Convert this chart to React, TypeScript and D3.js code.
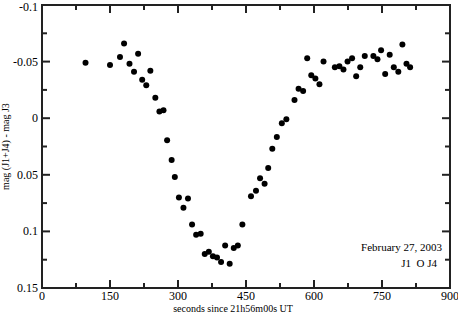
import React from 'react';
import * as d3 from 'd3';

// seconds since 21h56m00s UT
const seconds = [
  96, 150, 172, 181, 193, 203, 212, 221, 230, 239, 250, 259, 268, 276, 286, 293,
  302, 312, 322, 331, 340, 350, 359, 368, 377, 386, 395, 404, 414, 423, 432, 442,
  461, 472, 481, 491, 499, 508, 518, 529, 539, 557, 566, 576, 585, 594, 603, 612,
  621, 646, 656, 665, 674, 684, 693, 702, 712, 731, 740, 748, 757, 767, 776, 786,
  795, 804, 812,
];

// mag (J1+J4) - mag J3
const mag = [
  -0.049, -0.047, -0.054, -0.066, -0.048, -0.041, -0.057, -0.034, -0.029, -0.042, -0.018, -0.006, -0.007, 0.0195, 0.037, 0.052,
  0.070, 0.079, 0.071, 0.094, 0.103, 0.102, 0.120, 0.118, 0.122, 0.123, 0.127, 0.1125, 0.1285, 0.1146, 0.1125, 0.094,
  0.069, 0.064, 0.053, 0.058, 0.044, 0.027, 0.0166, 0.0045, 0.001, -0.016, -0.026, -0.024, -0.053, -0.038, -0.035, -0.030,
  -0.050, -0.045, -0.046, -0.043, -0.050, -0.053, -0.037, -0.045, -0.055, -0.055, -0.052, -0.060, -0.039, -0.056, -0.045, -0.041,
  -0.065, -0.048, -0.045,
];

const xMajor = [0, 150, 300, 450, 600, 750, 900];
const xMinor = [75, 225, 375, 525, 675, 825];
const yMajor = [-0.1, -0.05, 0, 0.05, 0.1, 0.15];
const yMinor = [-0.075, -0.025, 0.025, 0.075, 0.125];
const yLabels = ['-0.1', '-0.05', '0', '0.05', '0.1', '0.15'];

const W = 458;
const H = 313;
const left = 42;
const right = 450;
const top = 5;
const bottom = 288;

export default function App() {
  const x = d3.scaleLinear().domain([0, 900]).range([left, right]);
  const y = d3.scaleLinear().domain([-0.1, 0.15]).range([top, bottom]);
  const font = '"Liberation Serif", "DejaVu Serif", serif';
  const ax = '#222';

  return (
    <svg width={W} height={H} style={{ position: 'absolute', left: 0, top: 0 }} fontFamily={font}>
      <rect x={0} y={0} width={W} height={H} fill="#fff" />
      {/* frame */}
      <rect x={left} y={top} width={right - left} height={bottom - top} fill="none" stroke={ax} strokeWidth={2} />

      {/* x ticks, bottom and top, pointing inward */}
      {xMajor.map((v) => (
        <g key={'xm' + v}>
          <line x1={x(v)} x2={x(v)} y1={bottom} y2={bottom - 8} stroke={ax} strokeWidth={2} />
          <line x1={x(v)} x2={x(v)} y1={top} y2={top + 8} stroke={ax} strokeWidth={2} />
          <text x={x(v)} y={bottom + 12} textAnchor="middle" fill="#000" fontSize={12}>{v}</text>
        </g>
      ))}
      {xMinor.map((v) => (
        <g key={'xn' + v}>
          <line x1={x(v)} x2={x(v)} y1={bottom} y2={bottom - 5} stroke={ax} strokeWidth={2} />
          <line x1={x(v)} x2={x(v)} y1={top} y2={top + 5} stroke={ax} strokeWidth={2} />
        </g>
      ))}

      {/* y ticks, left and right */}
      {yMajor.map((v, i) => (
        <g key={'ym' + v}>
          <line x1={left} x2={left + 8} y1={y(v)} y2={y(v)} stroke={ax} strokeWidth={2} />
          <line x1={right} x2={right - 8} y1={y(v)} y2={y(v)} stroke={ax} strokeWidth={2} />
          <text x={left - 4} y={Math.max(y(v) + 4, 11)} textAnchor="end" fill="#000" fontSize={12}>{yLabels[i]}</text>
        </g>
      ))}
      {yMinor.map((v) => (
        <g key={'yn' + v}>
          <line x1={left} x2={left + 5} y1={y(v)} y2={y(v)} stroke={ax} strokeWidth={2} />
          <line x1={right} x2={right - 5} y1={y(v)} y2={y(v)} stroke={ax} strokeWidth={2} />
        </g>
      ))}

      {/* points */}
      {seconds.map((s, i) => (
        <circle key={i} cx={x(s)} cy={y(mag[i])} r={3} fill="#000" />
      ))}

      {/* axis titles */}
      <text x={233} y={312} textAnchor="middle" fill="#000" fontSize={10}>seconds since 21h56m00s UT</text>
      <text transform={`translate(9,${(top + bottom) / 2}) rotate(-90)`} textAnchor="middle" fill="#000" fontSize={10}>
        mag (J1+J4) - mag J3
      </text>

      {/* annotation */}
      <text x={442} y={251} textAnchor="end" fill="#000" fontSize={11}>February 27, 2003</text>
      <text x={437} y={267} textAnchor="end" fill="#000" fontSize={11}>{'J1\u00a0\u00a0O J4'}</text>
    </svg>
  );
}
